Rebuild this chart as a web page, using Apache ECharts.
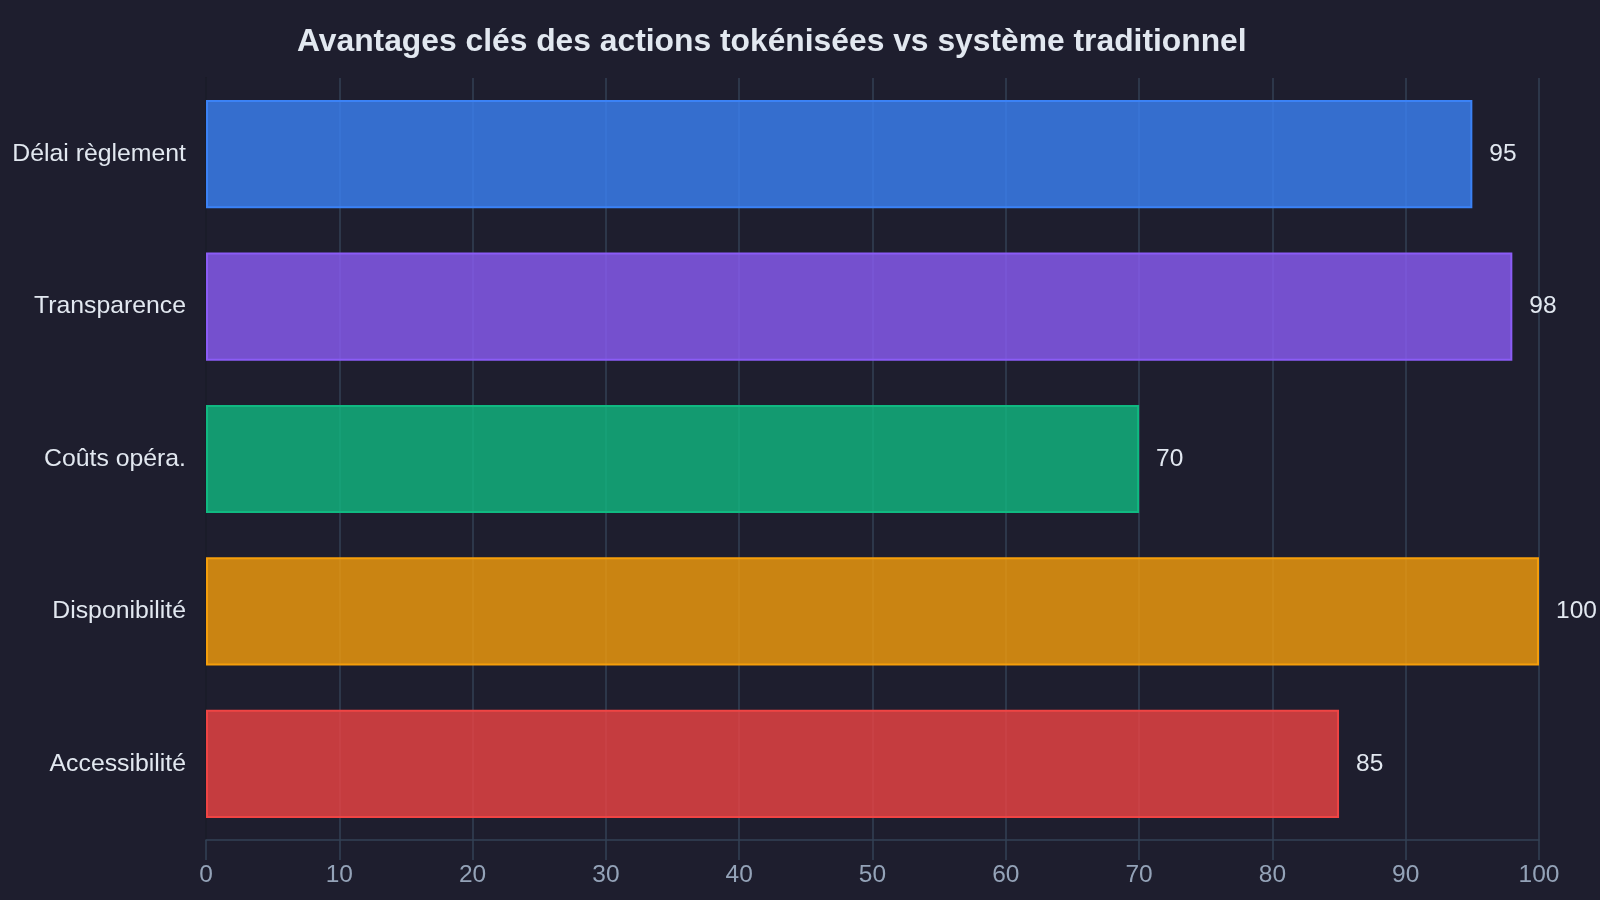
<!DOCTYPE html>
<html><head><meta charset="utf-8">
<script src="https://cdn.jsdelivr.net/npm/echarts@6/dist/echarts.min.js"></script>
<style>html,body{margin:0;padding:0;background:#1e1e2e;}#c{width:1600px;height:900px;}</style>
</head><body><div id="c"></div>
<script>
const categories = ["Délai règlement", "Transparence", "Coûts opéra.", "Disponibilité", "Accessibilité"];
const values = [95, 98, 70, 100, 85];
const colors = ["#3b82f6", "#8b5cf6", "#10b981", "#f59e0b", "#ef4444"];
const xTicks = [0, 10, 20, 30, 40, 50, 60, 70, 80, 90, 100];
const titleText = "Avantages clés des actions tokénisées vs système traditionnel";

const chart = echarts.init(document.getElementById('c'));
chart.setOption({
  backgroundColor: '#1e1e2e',
  animation: false,
  title: {
    text: titleText, left: 292, top: 21,
    textStyle: {color: '#e2e8f0', fontSize: 31.8, fontWeight: 'bold', fontFamily: 'Liberation Sans, Arial'}
  },
  grid: {left: 206, right: 61, top: 78, bottom: 60, containLabel: false},
  xAxis: {
    type: 'value', min: xTicks[0], max: xTicks[xTicks.length-1], interval: 10,
    axisLine: {show: true, lineStyle: {color: '#334155', width: 1.5}},
    axisTick: {show: true, length: 20, lineStyle: {color: '#334155', width: 1.5}},
    splitLine: {show: true, lineStyle: {color: '#334155', width: 1.5}},
    axisLabel: {color: '#94a3b8', fontSize: 24.5, margin: 23, fontFamily: 'Liberation Sans, Arial'}
  },
  yAxis: {
    type: 'category', data: categories, inverse: true,
    axisLine: {show: true, lineStyle: {color: '#15151f', width: 1.5}},
    axisTick: {show: false},
    splitLine: {show: false},
    axisLabel: {color: '#e2e8f0', fontSize: 24.8, margin: 20, padding: [6, 0, 0, 0], fontFamily: 'Liberation Sans, Arial'}
  },
  series: [{
    type: 'bar', barWidth: '71%', z: 1,
    data: values.map((v, i) => ({
      value: v,
      itemStyle: {color: echarts.color.modifyAlpha(colors[i], 0.8), borderColor: colors[i], borderWidth: 2}
    })),
    label: {show: true, position: 'right', distance: 17, padding: [6, 0, 0, 0], color: '#e2e8f0', fontSize: 24.5, fontFamily: 'Liberation Sans, Arial'}
  }]
});
</script></body></html>
